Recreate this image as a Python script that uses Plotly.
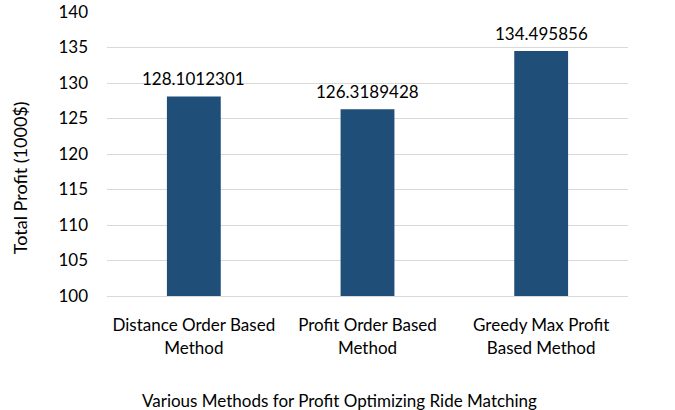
import plotly.graph_objects as go

categories = ["Distance Order Based<br>Method", "Profit Order Based<br>Method", "Greedy Max Profit<br>Based Method"]
values = [128.1012301, 126.3189428, 134.495856]
labels = ["128.1012301", "126.3189428", "134.495856"]
y_ticks = [100, 105, 110, 115, 120, 125, 130, 135, 140]

FONT = "Lato, Carlito, Calibri, sans-serif"

fig = go.Figure(go.Bar(
    x=categories, y=values,
    marker=dict(color="#1F4E79", line=dict(width=0)),
    hoverinfo="x+y",
))

annotations = [
    dict(text=lab, x=cat, y=val, xref="x", yref="y",
         xanchor="center", yanchor="middle", yshift=18, showarrow=False,
         font=dict(family=FONT, size=17, color="#000000"))
    for cat, val, lab in zip(categories, values, labels)
]
annotations += [
    dict(text="Various Methods for Profit Optimizing Ride Matching",
         xref="paper", yref="paper", x=0.5, xshift=-28, y=0, yshift=-104,
         xanchor="center", yanchor="middle", showarrow=False,
         font=dict(family=FONT, size=17, color="#000000")),
    dict(text="Total Profit (1000$)",
         xref="paper", yref="paper", x=0, xshift=-87, y=0.415,
         xanchor="center", yanchor="middle", showarrow=False, textangle=-90,
         font=dict(family=FONT, size=18, color="#000000")),
]

fig.update_layout(
    width=675, height=410,
    margin=dict(l=107, r=47, t=12, b=114, autoexpand=False),
    paper_bgcolor="white", plot_bgcolor="white",
    bargap=0.69,
    showlegend=False,
    font=dict(family=FONT, size=17, color="#000000"),
    xaxis=dict(
        showgrid=False, showline=True, linecolor="#D9D9D9", linewidth=1,
        tickfont=dict(family=FONT, size=17, color="#000000"),
        ticks="", ticklabelstandoff=14, automargin=False,
    ),
    yaxis=dict(
        range=[100, 140], tickvals=y_ticks,
        showgrid=True, gridcolor="#D9D9D9", gridwidth=1,
        zeroline=False, showline=False,
        tickfont=dict(family=FONT, size=17, color="#000000"),
        ticks="", ticklabelstandoff=18, automargin=False,
    ),
    annotations=annotations,
)

fig.write_html("out.html", config={"displayModeBar": False},
               post_script="document.body.style.margin='0';")
